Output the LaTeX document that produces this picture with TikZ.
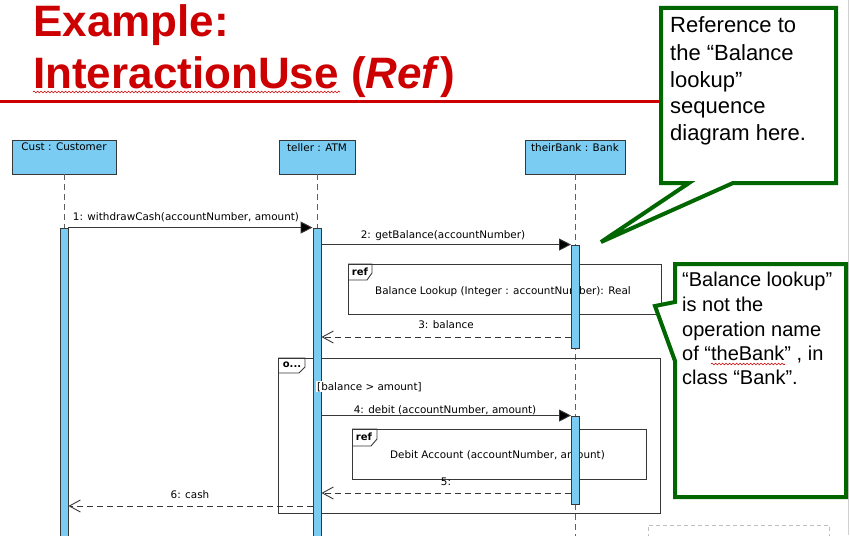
\documentclass[tikz,border=0pt]{standalone}
\usepackage{fontspec}
\setmainfont{Liberation Sans}
\newfontfamily\umlfont{DejaVu Sans}
\usetikzlibrary{arrows.meta,decorations.pathmorphing}

\definecolor{titlered}{RGB}{204,0,0}
\definecolor{notegreen}{RGB}{0,102,0}
\definecolor{lifeblue}{RGB}{122,204,242}
\definecolor{umlline}{RGB}{55,55,55}
\definecolor{lifegray}{RGB}{95,95,95}

\begin{document}
\begin{tikzpicture}[x=1pt,y=-1pt,
  uml/.style={font=\umlfont\fontsize{10.4}{12.5}\selectfont, text=black},
  tagtext/.style={font=\umlfont\bfseries\fontsize{10}{12}\selectfont, text=black, inner sep=0pt},
  head/.style={draw=umlline, fill=lifeblue, line width=0.9pt, minimum height=34pt, inner sep=0pt, minimum width=#1},
  lifeline/.style={draw=lifegray, line width=0.9pt, dash pattern=on 6pt off 4pt},
  actbar/.style={draw=umlline, fill=lifeblue, line width=0.9pt, minimum width=8pt, inner sep=0pt, minimum height=#1},
  sync/.style={draw=umlline, line width=0.9pt, -{Triangle[length=12pt,width=12pt,fill=black]}},
  reply/.style={draw=umlline, line width=0.9pt, dash pattern=on 6pt off 4pt, -{Straight Barb[length=11pt,width=12pt]}},
  frame/.style={draw=umlline, line width=0.9pt},
  note/.style={draw=notegreen, line width=4pt, fill=white, line join=miter, miter limit=4},
  titletext/.style={text=titlered, font=\bfseries\fontsize{44}{52}\selectfont, inner sep=0pt, anchor=base west},
  noteA/.style={font=\fontsize{22}{26}\selectfont, inner sep=0pt, anchor=base west},
  noteB/.style={font=\fontsize{20}{24}\selectfont, inner sep=0pt, anchor=base west},
  squiggle/.style={draw=titlered, line width=0.6pt, decorate, decoration={snake, amplitude=0.9pt, segment length=3.5pt}},
]
\useasboundingbox (0,0) rectangle (850,535);
\clip (0,0) rectangle (850,535);

% slide edge
\draw[black!18, line width=0.8pt] (848,0) -- (848,535);

% title
\node[titletext] (t1) at (33,37) {Example:};
\node[titletext] (t2) at (33,88) {InteractionUse (\textit{Ref})};
\draw[squiggle] (33,92) -- (340,92);
\draw[titlered, line width=3pt] (0,101) -- (662,101);

% lifeline heads
\node[head=104pt] (cust) at (64,157) {};
\node[head=76pt] (teller) at (317,157) {};
\node[head=100pt] (bank) at (575,157) {};
\node[uml, anchor=north, inner sep=3.5pt] (custlbl) at (cust.north) {Cust : Customer};
\node[uml, anchor=north, inner sep=3.5pt] (tellerlbl) at (teller.north) {teller : ATM};
\node[uml, anchor=north, inner sep=3.5pt] (banklbl) at (bank.north) {theirBank : Bank};

% activation bars (placed first so lifelines can end on them)
\coordinate (bankend) at (575,540);
\node[actbar=312pt] (cA) at (64,384) {};
\node[actbar=312pt] (tA) at (317,384) {};
\node[actbar=103pt] (bA1) at (575.5,296.5) {};
\node[actbar=88pt] (bA2) at (575.5,460) {};

% lifelines
\draw[lifeline] (cust.south) -- (cA.north);
\draw[lifeline] (teller.south) -- (tA.north);
\draw[lifeline] (bank.south) -- (bankend);

% opt fragment
\draw[frame] (278,358) rectangle (660,513);
\draw[frame] (278,358) -- (305,358) -- (305,367) -- (299,373) -- (278,373);
\node[tagtext] (opttag) at (292,365) {o...};

% ref: Balance Lookup
\draw[frame, fill=white] (348,264) rectangle (661,314);
\draw[frame] (348,264) -- (372,264) -- (372,273) -- (367,280) -- (348,280);
\node[tagtext] (reftag1) at (360,272) {ref};
\node[uml, anchor=base] (ref1txt) at (503,294) {Balance Lookup (Integer : accountNumber): Real};

% ref: Debit Account
\draw[frame, fill=white] (352,429) rectangle (646,479);
\draw[frame] (352,429) -- (377,429) -- (377,439) -- (371,446) -- (352,446);
\node[tagtext] (reftag2) at (364,437) {ref};
\node[uml, anchor=base] (ref2txt) at (497.5,458) {Debit Account (accountNumber, amount)};

% redraw the bars on top of the fragments
\node[actbar=312pt] at (cA) {};
\node[actbar=312pt] at (tA) {};
\node[actbar=103pt] at (bA1) {};
\node[actbar=88pt] at (bA2) {};

% guard
\node[uml, anchor=base west, fill=white, inner sep=1pt] (guard) at (316,390) {[balance > amount]};

% messages
\coordinate (y3) at (0,337);
\coordinate (y5) at (0,493);
\coordinate (y6) at (0,506);
\draw[sync] (cA.north east) -- (tA.north west);
\node[uml, anchor=base] (m1) at (186,220) {1: withdrawCash(accountNumber, amount)};
\draw[sync] (tA.east |- bA1.north) -- (bA1.north west);
\node[uml, anchor=base] (m2) at (443,238) {2: getBalance(accountNumber)};
\draw[reply] (bA1.west |- y3) -- (tA.east |- y3);
\node[uml, anchor=base] (m3) at (446,328) {3: balance};
\draw[sync] (tA.east |- bA2.north) -- (bA2.north west);
\node[uml, anchor=base] (m4) at (445,413) {4: debit (accountNumber, amount)};
\draw[reply] (bA2.west |- y5) -- (tA.east |- y5);
\node[uml, anchor=base] (m5) at (446,485) {5:};
\draw[reply] (tA.west |- y6) -- (cA.east |- y6);
\node[uml, anchor=base] (m6) at (190,498) {6: cash};

% faint dashed placeholder at the bottom right
\draw[black!25, line width=0.8pt, dash pattern=on 4pt off 3pt] (648,545) -- (648,525) -- (829,525) -- (829,545);

% callout notes
\draw[note] (661,8) -- (836,8) -- (836,183) -- (733,183) -- (601,242) -- (689,183) -- (661,183) -- cycle;
\node[noteA] (n1a) at (670,33) {Reference to};
\node[noteA] (n1b) at (670,60) {the “Balance};
\node[noteA] (n1c) at (670,87) {lookup”};
\node[noteA] (n1d) at (670,113) {sequence};
\node[noteA] (n1e) at (670,140) {diagram here.};

\draw[note] (675,264) -- (846,264) -- (846,497) -- (675,497) -- (675,361) -- (655,306) -- (675,302) -- cycle;
\node[noteB] (n2a) at (682,286) {“Balance lookup”};
\node[noteB] (n2b) at (682,311) {is not the};
\node[noteB] (n2c) at (682,336) {operation name};
\node[noteB] (n2d) at (682,360) {of “theBank” , in};
\node[noteB] (n2e) at (682,384) {class “Bank”.};
\draw[squiggle] (711,364) -- (785,364);
\end{tikzpicture}
\end{document}
